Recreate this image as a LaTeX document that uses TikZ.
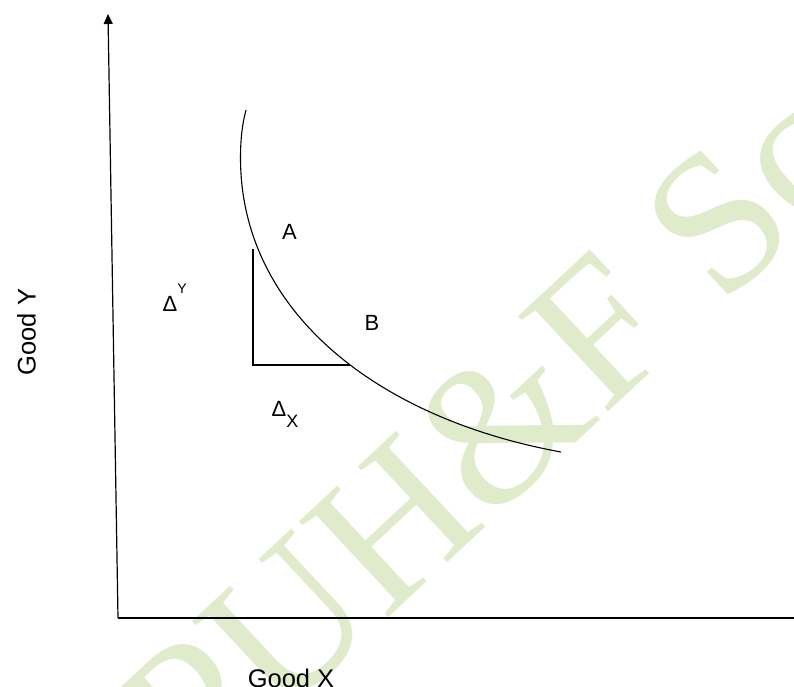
\documentclass[tikz,border=0pt]{standalone}
\usepackage{fontspec}
\setmainfont{Liberation Sans}
\newfontfamily\wmfont{Liberation Serif}
\usetikzlibrary{arrows.meta}
\definecolor{wmgreen}{RGB}{224,235,203}
\begin{document}
\begin{tikzpicture}[x=1pt,y=-1pt,
  axis/.style={line width=1.2pt, draw=black},
  curveline/.style={line width=1.1pt, draw=black},
  tri/.style={line width=1.3pt, draw=black},
  lbl/.style={inner sep=0pt, font=\fontsize{22}{22}\selectfont},
  axlbl/.style={inner sep=0pt, font=\fontsize{25.5}{25.5}\selectfont},
  wm/.style={inner sep=0pt, text=wmgreen, font=\wmfont\fontsize{200}{200}\selectfont}]
\useasboundingbox (0,0) rectangle (794,686);
\begin{scope}
\clip (0,0) rectangle (794,686);
\node[wm, rotate=43, anchor=base west] (wm) at (197,796) {PUH\&F Sc};
\end{scope}
% axes
\coordinate (O) at (118,618);
\coordinate (ytop) at (108,14);
\coordinate (xend) at (794,618);
\draw[axis, -{Triangle[length=10pt,width=9pt]}] (O) -- (ytop);
\draw[axis] (O) -- (xend);
% curve
\coordinate (c0) at (246,110);
\coordinate (c1) at (240.5,158);
\coordinate (c2) at (561,452);
\draw[curveline] (c0) .. controls (242,125) and (240.5,140) .. (c1)
  .. controls (240.5,310) and (375,418) .. (c2);
% triangle
\coordinate (t1) at (253,249);
\coordinate (t2) at (253,365);
\coordinate (t3) at (350,365);
\draw[tri] (t1) -- (t2) -- (t3);
% labels
\node[lbl] (A) at (289.5,232) {A};
\node[lbl] (B) at (372,323) {B};
\node[lbl, anchor=base west] (dy) at (162.5,311.7) {Δ\raisebox{18pt}{\fontsize{14}{14}\selectfont Y}};
\node[lbl, anchor=base west] (dx) at (271.5,416.7) {Δ\raisebox{-10.3pt}{\fontsize{18}{18}\selectfont X}};
\node[axlbl, anchor=base] (gx) at (291,687) {Good X};
\node[axlbl, rotate=90, anchor=base] (gy) at (35.7,332) {Good Y};
\end{tikzpicture}
\end{document}
